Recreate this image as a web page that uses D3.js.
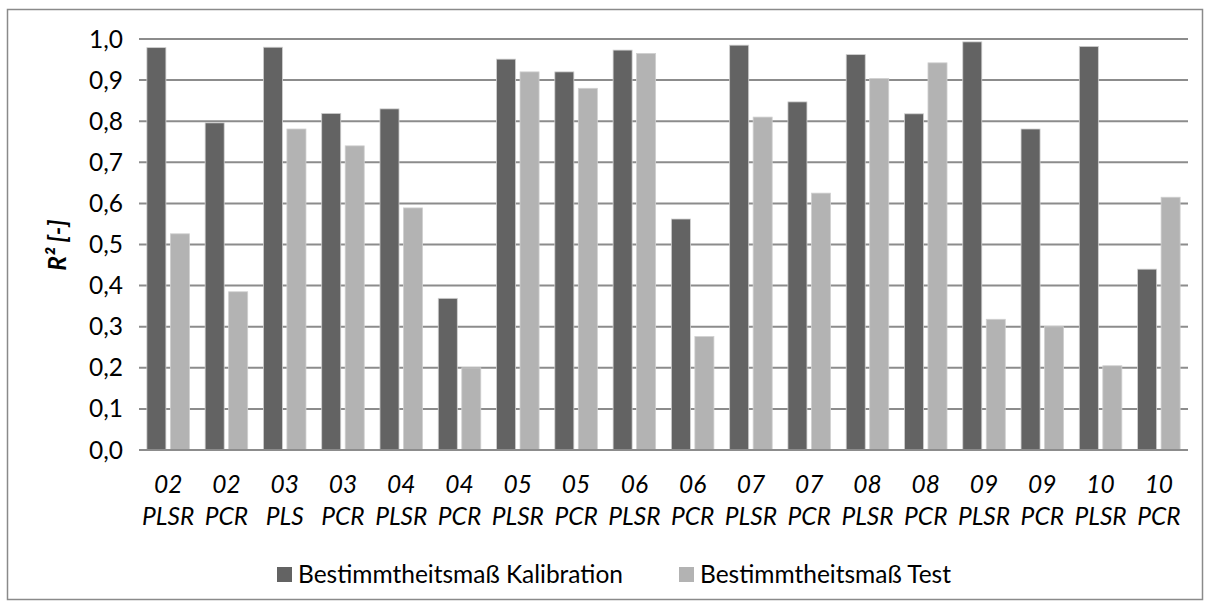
<!DOCTYPE html>
<html><head><meta charset="utf-8">
<script src="https://cdn.jsdelivr.net/npm/d3@7"></script>
<style>html,body{margin:0;padding:0;background:#fff}svg{display:block}</style>
</head><body>
<svg id="chart" width="1210" height="608"></svg>
<script>
const categories = [["02","PLSR"],["02","PCR"],["03","PLS"],["03","PCR"],["04","PLSR"],["04","PCR"],["05","PLSR"],["05","PCR"],["06","PLSR"],["06","PCR"],["07","PLSR"],["07","PCR"],["08","PLSR"],["08","PCR"],["09","PLSR"],["09","PCR"],["10","PLSR"],["10","PCR"]];
const kalibration = [0.979,0.796,0.980,0.819,0.830,0.369,0.951,0.920,0.973,0.562,0.985,0.847,0.962,0.818,0.993,0.781,0.982,0.440];
const test = [0.526,0.385,0.781,0.740,0.589,0.200,0.920,0.880,0.965,0.276,0.810,0.625,0.904,0.942,0.318,0.300,0.205,0.615];
const seriesNames = ["Bestimmtheitsmaß Kalibration","Bestimmtheitsmaß Test"];
const yTicks = [0,0.1,0.2,0.3,0.4,0.5,0.6,0.7,0.8,0.9,1.0];
const colors = ["#636363","#b3b3b3"];
const FONT = "Lato, 'Open Sans', sans-serif";
const FS = 24.5;

const svg = d3.select("#chart");
svg.append("rect").attr("x",7.5).attr("y",9.5).attr("width",1195).attr("height",590)
  .attr("fill","#fff").attr("stroke","#8a8a8a").attr("stroke-width",1.5);

const pLeft=139, pRight=1188, pTop=39, pBottom=450;
const keys = categories.map((c,i)=>i);
const x0 = d3.scaleBand().domain(keys).range([pLeft,pRight]).padding(0);
const x1 = d3.scaleBand().domain([0,1]).range([0,x0.bandwidth()]).paddingInner(0.19).paddingOuter(0.335);
const y = d3.scaleLinear().domain([0,1]).range([pBottom,pTop]);

svg.append("g").selectAll("line").data(yTicks).join("line")
  .attr("x1",pLeft).attr("x2",pRight).attr("y1",d=>y(d)).attr("y2",d=>y(d))
  .attr("stroke","#8c8c8c").attr("stroke-width",2);

const fmt = d=>d.toFixed(1).replace(".",",");
svg.append("g").selectAll("text").data(yTicks).join("text")
  .attr("x",123).attr("y",d=>y(d)+8.5).attr("text-anchor","end")
  .attr("font-family",FONT).attr("font-size",FS).attr("fill","#000").text(fmt);

const series=[kalibration,test];
series.forEach((vals,s)=>{
  svg.append("g").selectAll("rect").data(vals).join("rect")
    .attr("x",(d,i)=>x0(i)+x1(s)).attr("width",x1.bandwidth())
    .attr("y",d=>y(d)).attr("height",d=>y(0)-y(d))
    .attr("fill",colors[s]).attr("stroke","#d0d0d0").attr("stroke-width",0.8);
});

svg.append("line").attr("x1",pLeft).attr("x2",pRight).attr("y1",y(0)).attr("y2",y(0))
  .attr("stroke","#8c8c8c").attr("stroke-width",2);

const xl = svg.append("g").selectAll("text").data(categories).join("text")
  .attr("text-anchor","middle").attr("font-family",FONT).attr("font-size",FS)
  .attr("font-style","italic").attr("fill","#000");
xl.append("tspan").attr("x",(d,i)=>x0(i)+x0.bandwidth()/2).attr("y",493).text(d=>d[0]);
xl.append("tspan").attr("x",(d,i)=>x0(i)+x0.bandwidth()/2).attr("y",525).text(d=>d[1]);

svg.append("text").attr("transform","translate(66,245) rotate(-90)")
  .attr("text-anchor","middle").attr("font-family",FONT).attr("font-size",FS)
  .attr("font-weight","bold").attr("font-style","italic").text("R² [-]");

const legX=[277,679];
seriesNames.forEach((n,i)=>{
  svg.append("rect").attr("x",legX[i]).attr("y",567).attr("width",15).attr("height",15).attr("fill",colors[i]);
  svg.append("text").attr("x",legX[i]+21).attr("y",583).attr("font-family",FONT).attr("font-size",FS)
    .attr("fill","#000").text(n);
});
</script>
</body></html>
